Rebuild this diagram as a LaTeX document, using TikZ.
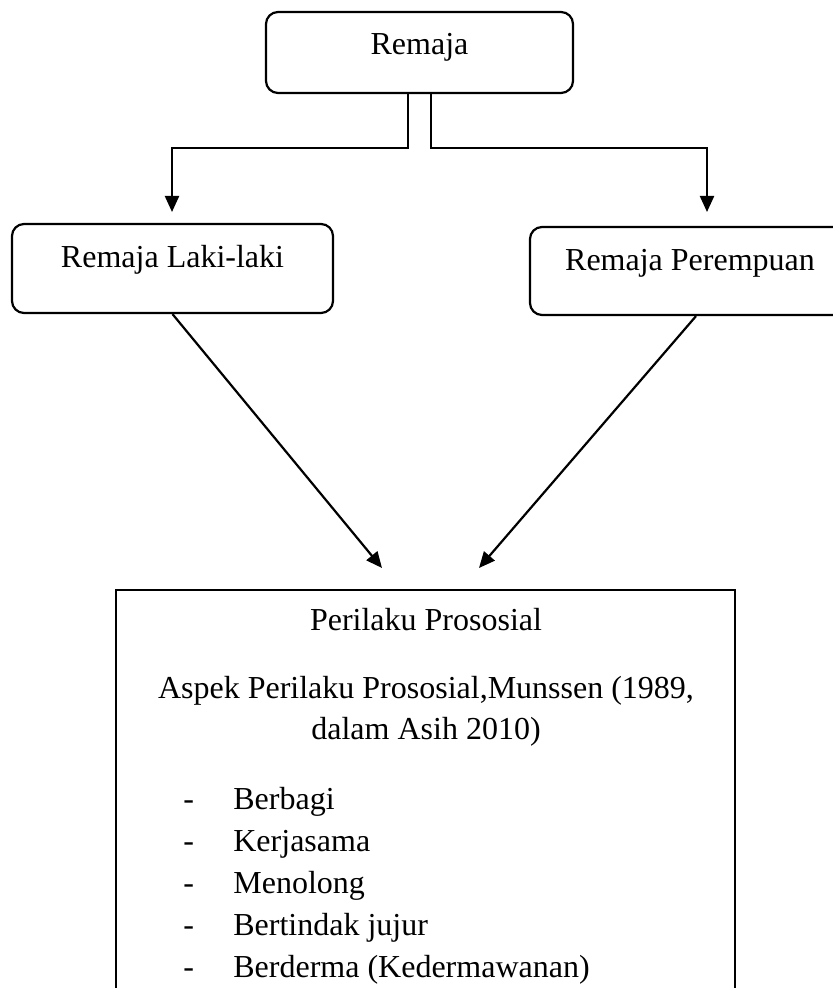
\documentclass[tikz,border=0pt]{standalone}
\usepackage{fontspec}
\setmainfont{Liberation Serif}
\usetikzlibrary{arrows.meta,positioning}
\newcommand{\teks}{\fontsize{16}{21}\selectfont}
\tikzset{
  kotak/.style={draw, line width=1.1pt, rounded corners=6pt, inner sep=0pt, font=\teks},
  panah/.style={line width=1.1pt, -{Triangle[length=8pt,width=7pt]}},
  isi/.style={font=\teks, inner sep=0pt},
}

\begin{document}
\begin{tikzpicture}[x=0.5pt,y=-0.5pt]
  \useasboundingbox (0,0) rectangle (833,988);
  \clip (0,0) rectangle (833,988);
  % kotak atas dan dua cabang
  \node[kotak, anchor=base, minimum width=153.5pt, text height=21.5pt, text depth=19pt] (remaja) at (419.5,55) {Remaja};
  \node[kotak, anchor=base, minimum width=160.5pt, text height=22pt, text depth=22.5pt] (laki) at (172.5,268) {Remaja Laki-laki};
  \node[kotak, anchor=base, minimum width=160pt, text height=22pt, text depth=22pt] (perempuan) at (690,271) {Remaja Perempuan};
  \node[draw, line width=1.1pt, anchor=north, minimum width=309.5pt, minimum height=210pt] (prososial) at (425.5,589) {};

  \coordinate (cabang) at (0,148);
  \coordinate (kiri) at (172,212);
  \coordinate (kanan) at (707,212);
  \draw[panah] ([xshift=-5.75pt]remaja.south) |- (kiri |- cabang) -- (kiri);
  \draw[panah] ([xshift=5.75pt]remaja.south) |- (kanan |- cabang) -- (kanan);

  \coordinate (ujungL) at (382,568);
  \coordinate (ujungR) at (479,568);
  \draw[panah] (laki.south) -- (ujungL);
  \draw[panah] ([xshift=3pt]perempuan.south) -- (ujungR);

  % isi kotak bawah
  \node[isi, anchor=base] (judul) at (426,630) {Perilaku Prososial};
  \node[isi, anchor=base] (aspek) at (426,698) {Aspek Perilaku Prososial,Munssen (1989,};
  \node[isi, anchor=base] (sumber) at (426,739) {dalam Asih 2010)};
  \foreach \t [count=\i] in {Berbagi, Kerjasama, Menolong, Bertindak jujur, Berderma (Kedermawanan)}
    \node[isi, anchor=base west] (butir\i) at (183,767+42*\i) {\makebox[25pt][l]{-}\t};
\end{tikzpicture}
\end{document}
